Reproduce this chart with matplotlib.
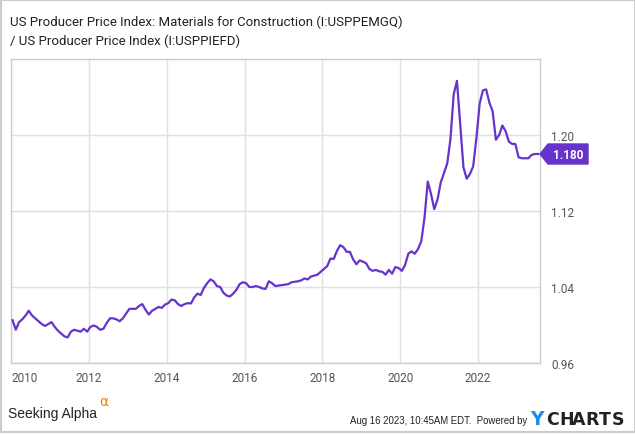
import numpy as np
import matplotlib
matplotlib.use("Agg")
import matplotlib.pyplot as plt
from matplotlib.patches import Polygon, Rectangle

# monthly ratio, Jan 2010 .. Jul 2023
ratio_2010 = [1.005, 0.995, 1.003, 1.006, 1.010, 1.015, 1.010, 1.007, 1.004, 1.001, 0.999, 1.001]
ratio_2011 = [1.003, 0.998, 0.994, 0.991, 0.988, 0.987, 0.993, 0.995, 0.994, 0.993, 0.996, 0.993]
ratio_2012 = [0.998, 0.9995, 0.998, 0.995, 0.996, 1.002, 1.007, 1.007, 1.006, 1.004, 1.007, 1.012]
ratio_2013 = [1.017, 1.017, 1.017, 1.020, 1.022, 1.016, 1.011, 1.015, 1.017, 1.019, 1.018, 1.0215]
ratio_2014 = [1.023, 1.0267, 1.026, 1.022, 1.020, 1.022, 1.023, 1.0227, 1.029, 1.033, 1.0316, 1.039]
ratio_2015 = [1.044, 1.048, 1.046, 1.041, 1.040, 1.034, 1.031, 1.030, 1.033, 1.037, 1.043, 1.045]
ratio_2016 = [1.044, 1.040, 1.040, 1.041, 1.040, 1.0385, 1.038, 1.046, 1.044, 1.041, 1.0415, 1.042]
ratio_2017 = [1.0425, 1.043, 1.045, 1.0455, 1.046, 1.047, 1.049, 1.048, 1.051, 1.052, 1.053, 1.056]
ratio_2018 = [1.059, 1.062, 1.070, 1.0695, 1.078, 1.084, 1.082, 1.077, 1.077, 1.069, 1.064, 1.068]
ratio_2019 = [1.0667, 1.065, 1.059, 1.057, 1.058, 1.0565, 1.056, 1.053, 1.058, 1.054, 1.061, 1.060]
ratio_2020 = [1.057, 1.063, 1.075, 1.0775, 1.075, 1.080, 1.088, 1.113, 1.151, 1.138, 1.122, 1.132]
ratio_2021 = [1.150, 1.160, 1.170, 1.196, 1.243, 1.257, 1.212, 1.166, 1.154, 1.159, 1.167, 1.197]
ratio_2022 = [1.233, 1.247, 1.248, 1.234, 1.225, 1.195, 1.200, 1.210, 1.204, 1.193, 1.1906, 1.1906]
ratio_2023 = [1.1765, 1.1755, 1.1755, 1.1755, 1.179, 1.180, 1.180]

ratio = np.array(ratio_2010 + ratio_2011 + ratio_2012 + ratio_2013 + ratio_2014
                 + ratio_2015 + ratio_2016 + ratio_2017 + ratio_2018 + ratio_2019
                 + ratio_2020 + ratio_2021 + ratio_2022 + ratio_2023)
months = 2010.04 + np.arange(len(ratio)) / 12.0

y_ticks = [0.96, 1.04, 1.12, 1.20]
x_ticks = [2010, 2012, 2014, 2016, 2018, 2020, 2022]
last_label = "1.180"
title = "US Producer Price Index: Materials for Construction (I:USPPEMGQ)\n/ US Producer Price Index (I:USPPIEFD)"

purple = "#6633cc"
grid_c = "#e0e0e0"
txt_c = "#555555"

plt.rcParams["font.family"] = ["Roboto", "DejaVu Sans"]

W, H = 635, 435
fig = plt.figure(figsize=(W / 100, H / 100), dpi=100)
ax = fig.add_axes([11 / W, 1 - 364 / H, 529 / W, 304 / H])

ax.plot(months, ratio, color=purple, lw=1.6, solid_joinstyle="round", zorder=3)
ax.set_xlim(2010.03, 2023.59)
ax.set_ylim(0.96, 1.28)

ax.set_yticks(y_ticks)
ax.set_yticklabels([f"{v:.2f}" for v in y_ticks])
ax.yaxis.tick_right()
ax.set_xticks(x_ticks)
ax.set_xticklabels([str(x) for x in x_ticks])
ax.tick_params(length=0, labelsize=8.5, labelcolor=txt_c)
ax.tick_params(axis="y", pad=8)
ax.tick_params(axis="x", pad=6)
ax.get_xticklabels()[0].set_horizontalalignment("left")
ax.grid(True, color=grid_c, lw=1)
for s in ax.spines.values():
    s.set_color("#cccccc")
    s.set_linewidth(1)

# overlay in pixel coords for tag, title, footer
ax_w = fig.add_axes([0, 0, 1, 1], facecolor="none")
ax_w.set_xlim(0, W)
ax_w.set_ylim(H, 0)
ax_w.axis("off")

# last value tag
ax_w.add_patch(Polygon([[540, 155], [548, 145], [588, 145], [588, 165], [548, 165]],
                       closed=True, color=purple))
ax_w.text(568, 155.5, last_label, color="white", fontsize=8.5, fontweight="bold",
          ha="center", va="center")

# title
ax_w.text(10, 31.5, title, fontsize=9.5, color="#222222", ha="left", va="center",
          linespacing=1.55)

# footer
ax_w.text(8, 414, "Seeking Alpha", fontsize=10, color="#222222", ha="left", va="center",
          family=["Liberation Sans", "DejaVu Sans"])
ax_w.text(99, 402, "α", fontsize=10, color="#f57c00", ha="left", va="center",
          family=["DejaVu Sans"])
ax_w.text(527, 421, "Aug 16 2023, 10:45AM EDT.  Powered by", fontsize=6.9,
          color="#222222", ha="right", va="center",
          family=["Liberation Sans", "DejaVu Sans"])
ax_w.text(530, 420, "Y", fontsize=13.5, color="#1f8ceb", ha="left", va="center",
          fontweight="bold", family=["DejaVu Sans"])
for k, ch in enumerate("CHARTS"):
    ax_w.text(546 + k * 13.2, 420, ch, fontsize=12.5, color="#222222", ha="left",
              va="center", fontweight="bold", family=["DejaVu Sans"])

# outer frame
ax_w.add_patch(Rectangle((0.5, 0.5), W - 1, H - 2.5, fill=False, ec="#cccccc", lw=1.5))

fig.savefig("out.png", dpi=100)
